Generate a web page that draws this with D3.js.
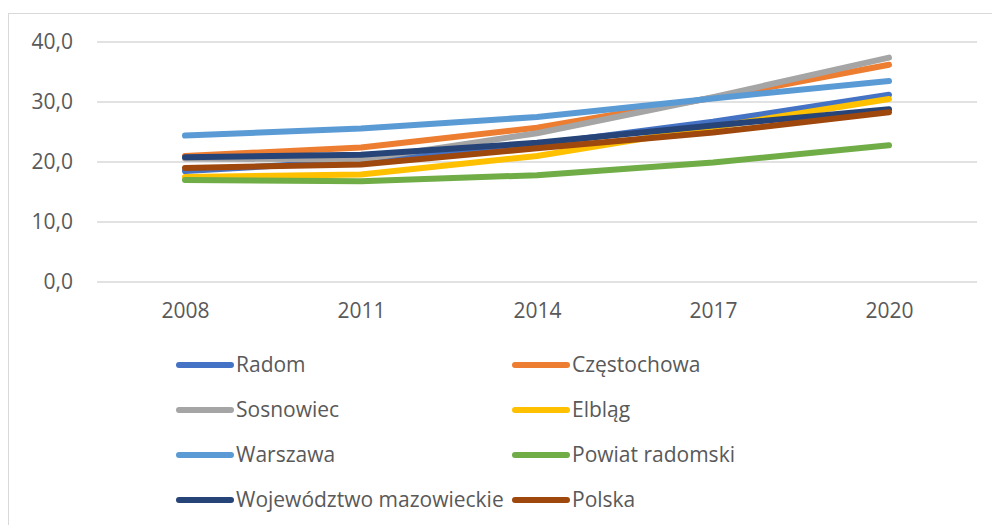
<!DOCTYPE html>
<html>
<head>
<meta charset="utf-8">
<script src="https://cdn.jsdelivr.net/npm/d3@7"></script>
<style>
  body { margin: 0; background: #fff; }
  text { font-family: "Open Sans", sans-serif; fill: #595959; }
</style>
</head>
<body>
<div id="chart"></div>
<script>
// data
const years = ["2008", "2011", "2014", "2017", "2020"];
const yTicks = [0, 10, 20, 30, 40];

const radom       = [18.5, 20.2, 22.9, 26.7, 31.2];
const czestochowa = [21.0, 22.4, 25.7, 30.7, 36.2];
const sosnowiec   = [20.6, 20.4, 24.8, 30.8, 37.4];
const elblag      = [17.5, 17.9, 21.0, 25.8, 30.5];
const warszawa    = [24.4, 25.6, 27.5, 30.6, 33.5];
const powiat      = [17.0, 16.8, 17.8, 19.9, 22.8];
const wojewodztwo = [20.8, 21.2, 23.2, 26.1, 28.8];
const polska      = [19.0, 19.6, 22.3, 24.9, 28.3];

const seriesNames = ["Radom", "Częstochowa", "Sosnowiec", "Elbląg", "Warszawa",
  "Powiat radomski", "Województwo mazowieckie", "Polska"];
const seriesValues = [radom, czestochowa, sosnowiec, elblag, warszawa, powiat, wojewodztwo, polska];
const colors = ["#4472C4", "#ED7D31", "#A5A5A5", "#FFC000", "#5B9BD5", "#70AD47", "#264478", "#9E480E"];

const W = 992, H = 525;
const svg = d3.select("#chart").append("svg")
  .attr("width", W).attr("height", H);

// chart area border
svg.append("rect")
  .attr("x", 8.5).attr("y", 13.5)
  .attr("width", W + 10).attr("height", H + 10)
  .attr("fill", "none").attr("stroke", "#d9d9d9").attr("stroke-width", 1);

const x = d3.scalePoint().domain(years).range([97, 977]).padding(0.5);
const y = d3.scaleLinear().domain([0, 40]).range([282, 42]);

// gridlines
svg.append("g")
  .selectAll("line").data(yTicks).join("line")
    .attr("x1", 97).attr("x2", 977)
    .attr("y1", d => y(d)).attr("y2", d => y(d))
    .attr("stroke", "#d9d9d9").attr("stroke-width", 1.5);

// Y axis labels
const fmt = d => d3.format(".1f")(d).replace(".", ",");
const yAxis = svg.append("g")
  .attr("transform", "translate(73,0)")
  .call(d3.axisLeft(y).tickValues(yTicks).tickFormat(fmt).tickSize(0).tickPadding(0));
yAxis.select(".domain").remove();
yAxis.selectAll("text").attr("font-size", 21).attr("font-family", "Open Sans").attr("fill", "#595959");

// X axis labels
const xAxis = svg.append("g")
  .attr("transform", "translate(0,282)")
  .call(d3.axisBottom(x).tickSize(0).tickPadding(21));
xAxis.select(".domain").remove();
xAxis.selectAll("text").attr("font-size", 21).attr("font-family", "Open Sans").attr("fill", "#595959");

// lines
const line = d3.line()
  .x((d, i) => x(years[i]))
  .y(d => y(d));

svg.append("g")
  .selectAll("path").data(seriesValues).join("path")
    .attr("fill", "none")
    .attr("stroke", (d, i) => colors[i])
    .attr("stroke-width", 6)
    .attr("stroke-linecap", "round")
    .attr("stroke-linejoin", "round")
    .attr("d", line);

// legend, two columns
const legend = svg.append("g");
const item = legend.selectAll("g").data(seriesNames).join("g")
  .attr("transform", (d, i) => `translate(${i % 2 ? 513 : 177},${365 + Math.floor(i / 2) * 45})`);
item.append("line")
  .attr("x1", 2).attr("x2", 54)
  .attr("stroke", (d, i) => colors[i])
  .attr("stroke-width", 6)
  .attr("stroke-linecap", "round");
item.append("text")
  .attr("x", 59).attr("dy", "0.35em")
  .attr("font-size", 21)
  .text(d => d);
</script>
</body>
</html>
